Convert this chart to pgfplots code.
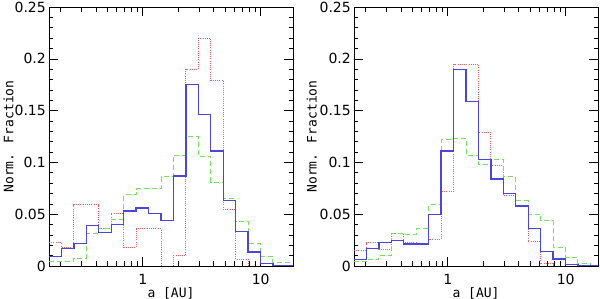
\documentclass[border=0pt]{standalone}
\usepackage{fontspec}
\setmainfont{DejaVu Sans}
\newfontfamily\labelfont{DejaVu Sans Mono}
\usepackage{pgfplots}
\usepackage{pgfplotstable}
\pgfplotsset{compat=1.18}
\definecolor{cblue}{RGB}{75,70,215}
\definecolor{cgreen}{RGB}{120,225,100}
\definecolor{cred}{RGB}{230,100,100}

\pgfplotstableread{
x b g r
0.1603 0.009 0.004 0.0226
0.2044 0.017 0.004 0.0177
0.2606 0.022 0.0074 0.059
0.3322 0.039 0.031 0.059
0.4236 0.032 0.036 0.036
0.5401 0.040 0.045 0.051
0.6887 0.053 0.0687 0.018
0.8780 0.056 0.0745 0.036
1.1194 0.051 0.0745 0.036
1.4272 0.044 0.086 0
1.8197 0.087 0.107 0.0103
2.3202 0.175 0.125 0.190
2.9580 0.146 0.106 0.220
3.7715 0.111 0.081 0.179
4.8084 0.063 0.065 0.055
6.1306 0.033 0.043 0.0068
7.8163 0.0135 0.022 0
9.9655 0.0026 0.0097 0
12.706 0 0.003 0
16.200 0 0.003 0
20.654 0 0.003 0
}\lefttab

\pgfplotstableread{
x b g r
0.1603 0.0065 0.004 0.015
0.2044 0.017 0.006 0.0226
0.2606 0.0226 0.010 0.0155
0.3322 0.0245 0.031 0.031
0.4236 0.0213 0.030 0.023
0.5401 0.0213 0.036 0.022
0.6887 0.050 0.059 0.026
0.8780 0.111 0.122 0.072
1.1194 0.190 0.123 0.195
1.4272 0.1587 0.107 0.195
1.8197 0.103 0.098 0.129
2.3202 0.084 0.103 0.097
2.9580 0.070 0.086 0.068
3.7715 0.058 0.063 0.057
4.8084 0.036 0.050 0.0235
6.1306 0.0142 0.044 0.002
7.8163 0.0068 0.018 0
9.9655 0.0016 0.0084 0
12.706 0 0.0026 0
16.200 0 0 0
20.654 0 0 0
}\righttab

\pgfplotsset{
  histax/.style={
    scale only axis, width=244bp, height=259bp, anchor=south west,
    xmin=0.1603, xmax=18.8, ymin=0, ymax=0.25,
    xtick={1,10}, xticklabels={1,10},
    minor xtick={0.2,0.3,0.4,0.5,0.6,0.7,0.8,0.9,2,3,4,5,6,7,8,9},
    ytick={0,0.05,0.1,0.15,0.2,0.25}, yticklabels={0,0.05,0.1,0.15,0.2,0.25},
    minor y tick num=4,
    tick align=inside, xtick pos=both, ytick pos=both,
    xticklabel pos=lower, yticklabel pos=left,
    major tick length=9bp, minor tick length=4.5bp,
    every tick/.style={black, line width=0.6bp},
    axis line style={line width=0.9bp},
    ticklabel style={font=\fontsize{14bp}{16bp}\selectfont, inner sep=0pt},
    xticklabel style={anchor=north, yshift=-8bp},
    yticklabel style={anchor=east, xshift=-3bp},
    xlabel={a [AU]}, ylabel={Norm. Fraction},
    label style={font=\labelfont\fontsize{13bp}{15bp}\selectfont, inner sep=0pt},
    xlabel style={at={(axis description cs:0.5,0)}, anchor=north, yshift=-21bp},
    clip=true,
  },
  redh/.style={const plot, color=cred, line width=0.9bp, dash pattern=on 0.9bp off 1.3bp},
  greenh/.style={const plot, color=cgreen, line width=0.9bp, dash pattern=on 5bp off 3bp},
  blueh/.style={const plot, color=cblue, line width=1.3bp},
}

\begin{document}
\begin{tikzpicture}
\begin{semilogxaxis}[histax, at={(49bp,33bp)},
  ylabel style={at={(axis description cs:-0.166,0.5)}, anchor=center}]
\addplot[redh] table[x=x,y=r]{\lefttab};
\addplot[greenh] table[x=x,y=g]{\lefttab};
\addplot[blueh] table[x=x,y=b]{\lefttab};
\end{semilogxaxis}
\begin{semilogxaxis}[histax, at={(354bp,33bp)},
  ylabel style={at={(axis description cs:-0.173,0.5)}, anchor=center}]
\addplot[redh] table[x=x,y=r]{\righttab};
\addplot[greenh] table[x=x,y=g]{\righttab};
\addplot[blueh] table[x=x,y=b]{\righttab};
\end{semilogxaxis}
\pgfresetboundingbox
\path[use as bounding box] (0,0) rectangle (600bp,299bp);
\end{tikzpicture}
\end{document}
